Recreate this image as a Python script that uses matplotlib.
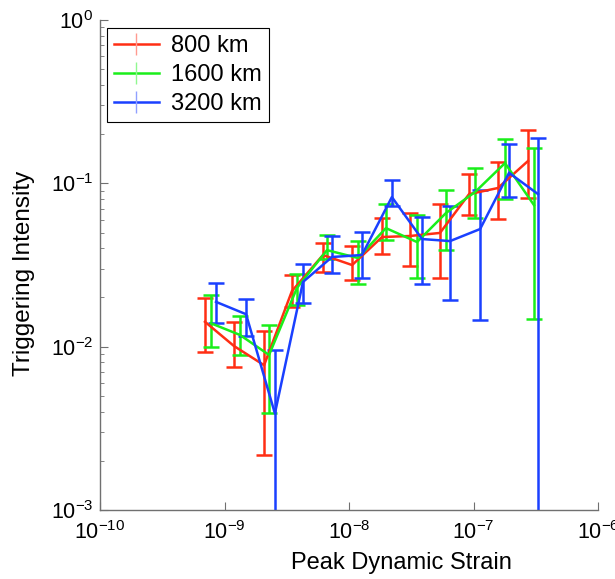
import numpy as np
import matplotlib
matplotlib.use('Agg')
import matplotlib.pyplot as plt
from matplotlib.lines import Line2D
from matplotlib.ticker import LogLocator, NullLocator

plt.rcParams['font.family'] = ['Liberation Sans', 'DejaVu Sans']
plt.rcParams['mathtext.default'] = 'regular'
plt.rcParams['axes.unicode_minus'] = False

# triggering intensity vs. peak dynamic strain, one series per distance window
labels = ['800 km', '1600 km', '3200 km']
colors = ['#ff2e14', '#1aee1a', '#1a40ff']
light_colors = ['#ff9a90', '#90f890', '#90a0ff']

strain_800 = [6.97e-10, 1.19e-9, 2.08e-9, 3.48e-9, 6.18e-9, 1.06e-8,
              1.84e-8, 3.09e-8, 5.38e-8, 9.21e-8, 1.57e-7, 2.74e-7]
rate_800 = [0.0142, 0.0101, 0.0077, 0.0219, 0.0364, 0.0316,
            0.0469, 0.0476, 0.0497, 0.0859, 0.0936, 0.137]
low_800 = [0.0093, 0.0075, 0.00217, 0.0175, 0.0286, 0.0256,
           0.0369, 0.0311, 0.0263, 0.0639, 0.0604, 0.0813]
high_800 = [0.0198, 0.0142, 0.0125, 0.0274, 0.0431, 0.0413,
            0.0613, 0.0658, 0.0747, 0.114, 0.135, 0.212]

strain_1600 = [7.79e-10, 1.33e-9, 2.28e-9, 3.82e-9, 6.66e-9, 1.18e-8,
               1.98e-8, 3.52e-8, 6.01e-8, 1.03e-7, 1.79e-7, 3.06e-7]
rate_1600 = [0.0139, 0.0118, 0.0089, 0.0229, 0.0390, 0.0349,
             0.0532, 0.0437, 0.0658, 0.0885, 0.133, 0.0736]
low_1600 = [0.0099, 0.0089, 0.0039, 0.0180, 0.0344, 0.0242,
            0.0449, 0.0263, 0.0390, 0.0613, 0.0801, 0.0148]
high_1600 = [0.0207, 0.0154, 0.0136, 0.0278, 0.0483, 0.0443,
             0.0747, 0.0639, 0.0910, 0.124, 0.187, 0.165]

strain_3200 = [8.55e-10, 1.49e-9, 2.54e-9, 4.27e-9, 7.30e-9, 1.27e-8,
               2.21e-8, 3.86e-8, 6.48e-8, 1.13e-7, 1.93e-7, 3.30e-7]
rate_3200 = [0.0188, 0.0158, 0.0039, 0.0249, 0.0354, 0.0364,
             0.0824, 0.0456, 0.0443, 0.0525, 0.116, 0.0859]
low_3200 = [0.0139, 0.0116, 0.0, 0.0185, 0.0282, 0.0263,
            0.0726, 0.0242, 0.0193, 0.0146, 0.0824, 0.0]
high_3200 = [0.0245, 0.0196, 0.0095, 0.0320, 0.0476, 0.0503,
             0.105, 0.0622, 0.0726, 0.091, 0.174, 0.189]

series = [
    (strain_800, rate_800, low_800, high_800),
    (strain_1600, rate_1600, low_1600, high_1600),
    (strain_3200, rate_3200, low_3200, high_3200),
]

fig = plt.figure(figsize=(6.15, 5.79), dpi=100)
ax = fig.add_axes([100 / 615, 69 / 579, 498 / 615, 490 / 579])
ax.set_xscale('log')
ax.set_yscale('log')

for (x, y, lo, hi), c in zip(series, colors):
    y = np.array(y)
    yerr = [y - np.array(lo), np.array(hi) - y]
    ax.errorbar(x, y, yerr=yerr, color=c, lw=1.8, elinewidth=1.8,
                capsize=6, capthick=1.8)

ax.set_xlim(1e-10, 1e-6)
ax.set_ylim(1e-3, 1e0)
ax.xaxis.set_minor_locator(NullLocator())
ax.yaxis.set_minor_locator(LogLocator(base=10, subs=np.arange(2, 10)))

for side in ['top', 'right']:
    ax.spines[side].set_visible(False)
for side in ['left', 'bottom']:
    ax.spines[side].set_color('#707070')
    ax.spines[side].set_linewidth(1.0)

ax.tick_params(which='both', direction='in', color='#707070', labelsize=15.5)
ax.tick_params(which='major', length=6)
ax.tick_params(axis='x', which='major', pad=8)
ax.tick_params(axis='y', which='major', pad=5)
ax.tick_params(which='minor', length=3)

ax.set_xlabel('Peak Dynamic Strain', fontsize=17)
ax.set_ylabel('Triggering Intensity', fontsize=17.5)
ax.xaxis.set_label_coords(0.606, -0.085)
ax.yaxis.set_label_coords(-0.13, 0.483)

# legend entries: line with a thin vertical error tick
handles = [Line2D([], [], color=c, lw=1.8, marker='|', markersize=16,
                  markeredgewidth=1.0, markeredgecolor=lc)
           for c, lc in zip(colors, light_colors)]
leg = ax.legend(handles, labels, loc='upper left', fontsize=17,
                bbox_to_anchor=(0.014, 0.984), borderaxespad=0,
                fancybox=False, framealpha=1, edgecolor='black',
                handlelength=1.9, handletextpad=0.5, labelspacing=0.3,
                borderpad=0.3)
leg.get_frame().set_linewidth(0.8)

fig.savefig('out.png', dpi=100)
